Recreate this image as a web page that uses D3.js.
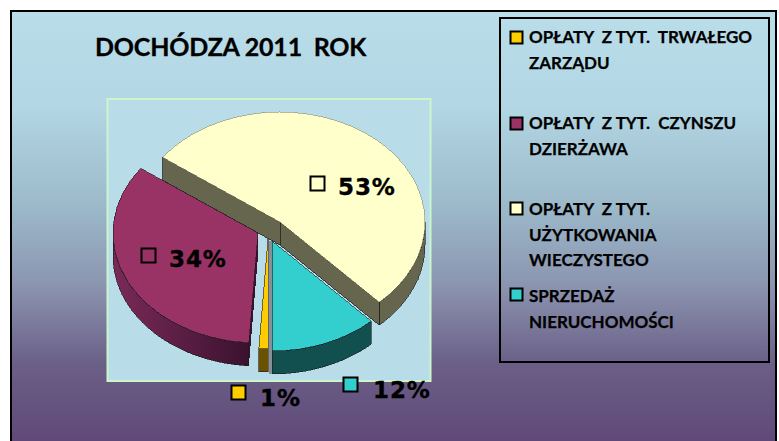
<!DOCTYPE html>
<html><head><meta charset="utf-8">
<script src="https://d3js.org/d3.v7.min.js"></script>
<style>html,body{margin:0;padding:0;background:#fff}svg{display:block}</style>
</head><body><div id="c"></div>
<script>
const categories = ["OPŁATY Z TYT. TRWAŁEGO ZARZĄDU","OPŁATY Z TYT. CZYNSZU DZIERŻAWA","OPŁATY Z TYT. UŻYTKOWANIA WIECZYSTEGO","SPRZEDAŻ NIERUCHOMOŚCI"];
const values = [1,34,53,12];
const colors = ["#ffcc00","#993366","#ffffcc","#33cfcf"];
const wallColors = ["#6b5200","url(#wallP)","#66664f","#125050"];
const legendLines = [["OPŁATY  Z TYT.  TRWAŁEGO","ZARZĄDU"],["OPŁATY  Z TYT.  CZYNSZU","DZIERŻAWA"],["OPŁATY  Z TYT.","UŻYTKOWANIA","WIECZYSTEGO"],["SPRZEDAŻ","NIERUCHOMOŚCI"]];
const title = "DOCHÓDZA 2011  ROK";

const W=779,H=441, RX=145, RY=110, DEPTH=23;
const centers=[[268,239],[258,233],[280,222],[272,241]];
const labelPos=[[260,406,231,385],[169,267,141,248],[338,195,310,176],[373,398,343,377]];
const legendRows=[[31,43],[117,129],[202,215],[288,302]];
const LH=25.7;

const svg=d3.select("#c").append("svg").attr("width",W).attr("height",H);
const defs=svg.append("defs");
const bg=defs.append("linearGradient").attr("id","bg").attr("x1",0).attr("x2",0).attr("y1",0).attr("y2",1);
[[0,"#b9deea"],[.22,"#b2d6e3"],[.45,"#9bb8c9"],[.62,"#8b95b0"],[.8,"#6b5f87"],[1,"#5f4677"]].forEach(s=>bg.append("stop").attr("offset",s[0]).attr("stop-color",s[1]));
const wp=defs.append("linearGradient").attr("id","wallP").attr("gradientUnits","userSpaceOnUse").attr("x1",113).attr("x2",247).attr("y1",0).attr("y2",0);
wp.append("stop").attr("offset",0).attr("stop-color","#7a2a58");
wp.append("stop").attr("offset",1).attr("stop-color","#3c1230");

svg.append("rect").attr("x",11).attr("y",11).attr("width",765).attr("height",H).attr("fill","url(#bg)").attr("stroke","#000").attr("stroke-width",2);
svg.append("rect").attr("x",107.5).attr("y",99).attr("width",323).attr("height",282).attr("fill","#b8dce8").attr("stroke","#ccf5cc").attr("stroke-width",2);

const pie=d3.pie().sort(null).startAngle(Math.PI).endAngle(3*Math.PI)(values);
const arc=d3.arc().innerRadius(0).outerRadius(RX);
const rim=d3.line().curve(d3.curveLinear);
const order=[2,3,0,1];
const g=svg.append("g").attr("shape-rendering","crispEdges");

function ept(c,a){return [c[0]+RX*Math.sin(a),c[1]-RY*Math.cos(a)];}
order.forEach(i=>{
  const d=pie[i],c=centers[i];
  const a0=d.startAngle,a1=d.endAngle;
  const segs=[[a0,Math.min(a1,1.5*Math.PI)],[Math.max(a0,2.5*Math.PI),a1]];
  segs.forEach(s=>{
    if(s[1]<=s[0])return;
    const as=d3.range(s[0],s[1],0.02).concat([s[1]]);
    const top=as.map(a=>ept(c,a));
    const bot=as.map(a=>{const p=ept(c,a);return [p[0],p[1]+DEPTH];}).reverse();
    g.append("path").attr("d",rim(top.concat(bot))+"Z").attr("fill",wallColors[i]).attr("stroke","#1a1a1a").attr("stroke-width",.6);
  });
  if(i===2){
    [a0,a1].forEach(a=>{
      const p=ept(c,a);
      g.append("path").attr("d",rim([[c[0],c[1]],p,[p[0],p[1]+DEPTH],[c[0],c[1]+DEPTH]])+"Z").attr("fill",wallColors[i]).attr("stroke","#222").attr("stroke-width",.8);
    });
  }
  if(i===1){
    const p=ept(c,a0);
    g.append("path").attr("d",rim([[c[0],c[1]],p,[p[0],p[1]+DEPTH],[c[0],c[1]+DEPTH]])+"Z").attr("fill","#3c1230");
  }
  if(i===3){
    g.append("path").attr("d",rim([[c[0]-3,c[1]],[c[0],c[1]],[c[0],c[1]+RY+DEPTH],[c[0]-3,c[1]+RY+DEPTH]])+"Z").attr("fill","#8a8f94");
  }
  g.append("path").attr("d",arc(d)).attr("transform",`translate(${c[0]},${c[1]}) scale(1,${RY/RX})`)
    .attr("fill",colors[i]).attr("stroke",i===2?"#8a8a70":"#1a1a1a").attr("stroke-width",.6).attr("vector-effect","non-scaling-stroke");
});

values.forEach((v,i)=>{
  const l=labelPos[i];
  svg.append("rect").attr("x",l[2]+.5).attr("y",l[3]+.5).attr("width",14).attr("height",14).attr("fill",colors[i]).attr("stroke","#000").attr("stroke-width",2);
  svg.append("text").attr("x",l[0]).attr("y",l[1]).attr("font-family","'DejaVu Sans'").attr("font-weight",700).attr("font-size",23).style("letter-spacing","0.9px").attr("fill","#000").attr("stroke","#000").attr("stroke-width",.35).text(v+"%");
});

svg.append("text").attr("x",95).attr("y",56).attr("font-family","Lato").attr("font-weight",700).attr("font-size",25).style("letter-spacing","-0.2px").style("white-space","pre").attr("fill","#000").attr("stroke","#000").attr("stroke-width",.3).text(title);

svg.append("rect").attr("x",500).attr("y",18).attr("width",269).attr("height",344).attr("fill","none").attr("stroke","#000").attr("stroke-width",2);
categories.forEach((cat,i)=>{
  const r=legendRows[i];
  svg.append("rect").attr("x",510.5).attr("y",r[0]+.5).attr("width",12).attr("height",12).attr("fill",colors[i]).attr("stroke","#000").attr("stroke-width",2);
  legendLines[i].forEach((t,j)=>svg.append("text").attr("x",529).attr("y",r[1]+j*LH).attr("font-family","Lato").attr("font-weight",700).attr("font-size",17).style("white-space","pre").attr("fill","#000").attr("stroke","#000").attr("stroke-width",.25).text(t));
});
</script></body></html>
